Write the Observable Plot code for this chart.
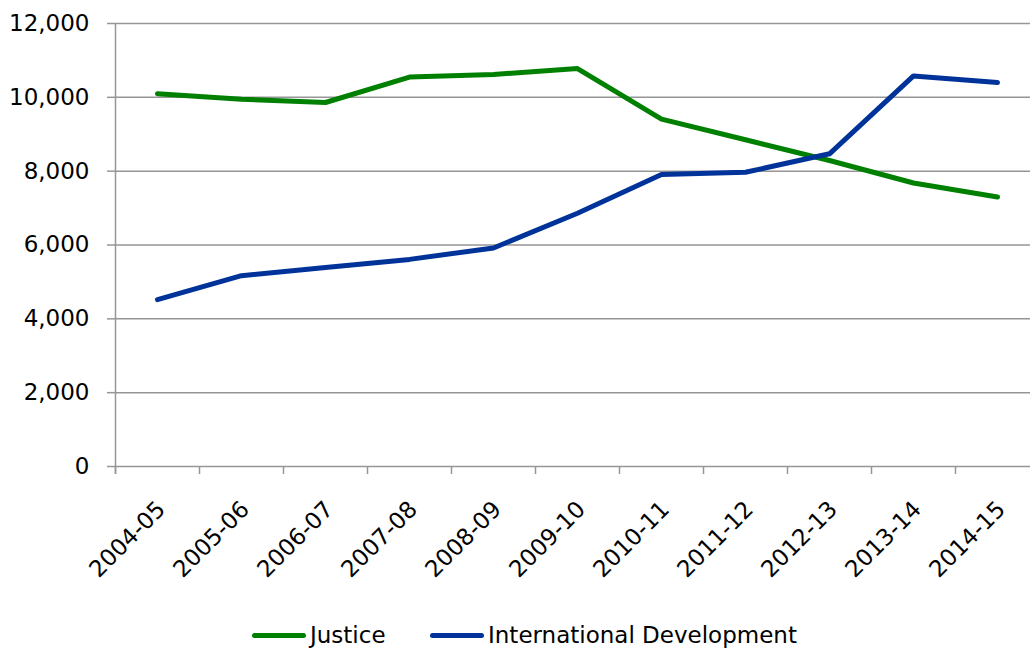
<!DOCTYPE html>
<html>
<head>
<meta charset="utf-8">
<script src="https://cdn.jsdelivr.net/npm/d3@7"></script>
<script src="https://cdn.jsdelivr.net/npm/@observablehq/plot@0.6"></script>
<style>
  html, body { margin: 0; padding: 0; background: #fff; overflow: hidden; }
  #wrap { width: 1030px; height: 649px; overflow: hidden; position: relative; font-family: "DejaVu Sans", sans-serif; }
  #chart svg { max-width: none !important; display: block; }
  #legend { position: relative; height: 39px; font-size: 23px; color: #000; }
  .item { position: absolute; top: 14px; height: 22px; display: flex; align-items: center; white-space: nowrap; }
  .swatch { display: inline-block; width: 54px; height: 5px; border-radius: 2.5px; margin-right: 4px; }
</style>
</head>
<body>
<div id="wrap"><div id="chart"></div><div id="legend"></div></div>
<script>
const years = ["2004-05","2005-06","2006-07","2007-08","2008-09","2009-10","2010-11","2011-12","2012-13","2013-14","2014-15"];
const justice = [10100, 9950, 9860, 10550, 10620, 10780, 9410, 8850, 8290, 7680, 7300];
const intDev = [4520, 5170, 5390, 5610, 5920, 6860, 7910, 7970, 8470, 10580, 10400];
const seriesNames = ["Justice", "International Development"];
const seriesColors = ["#008000", "#003399"];
const yTicks = [0, 2000, 4000, 6000, 8000, 10000, 12000];

const rows = [];
years.forEach((yr, i) => {
  rows.push({year: yr, value: justice[i], series: seriesNames[0]});
  rows.push({year: yr, value: intDev[i], series: seriesNames[1]});
});

const W = 1040, ML = 115, MR = 1;
const bw = (W - ML - MR) / years.length;
const gridColor = "#969696";

const chart = Plot.plot({
  width: W,
  height: 610,
  marginLeft: ML,
  marginRight: MR,
  marginTop: 23,
  marginBottom: 144,
  style: {fontFamily: "DejaVu Sans, sans-serif", fontSize: "23px", color: "#000", background: "#fff", overflow: "visible", maxWidth: "none"},
  x: {type: "band", domain: years, padding: 0},
  y: {domain: [0, 12000]},
  color: {domain: seriesNames, range: seriesColors},
  marks: [
    Plot.gridY(yTicks, {stroke: gridColor, strokeOpacity: 1, strokeWidth: 1.5}),
    Plot.ruleX([years[0]], {x: d => d, dx: -bw / 2, y1: 12000, y2: 0, insetBottom: -8, stroke: gridColor, strokeWidth: 1.5}),
    Plot.ruleX(years, {x: d => d, dx: -bw / 2, y1: 0, y2: 0, insetBottom: -8, stroke: gridColor, strokeWidth: 1.5}),
    Plot.axisY(yTicks, {tickSize: 8, tickPadding: 18, tickFormat: d3.format(","), stroke: gridColor, strokeWidth: 1.5, fill: "#000", fontSize: 23, label: null}),
    Plot.axisX({tickSize: 0, tickRotate: -45, tickPadding: 39, dx: 4, fill: "#000", fontSize: 23, label: null}),
    Plot.line(rows, {x: "year", y: "value", z: "series", stroke: "series", strokeWidth: 5, strokeLinecap: "round", strokeLinejoin: "round"})
  ]
});
document.getElementById("chart").appendChild(chart);

const legend = document.getElementById("legend");
const lefts = [252, 430];
seriesNames.forEach((name, i) => {
  const it = document.createElement("div");
  it.className = "item";
  it.style.left = lefts[i] + "px";
  const sw = document.createElement("span");
  sw.className = "swatch";
  sw.style.background = seriesColors[i];
  it.appendChild(sw);
  it.appendChild(document.createTextNode(name));
  legend.appendChild(it);
});
</script>
</body>
</html>
